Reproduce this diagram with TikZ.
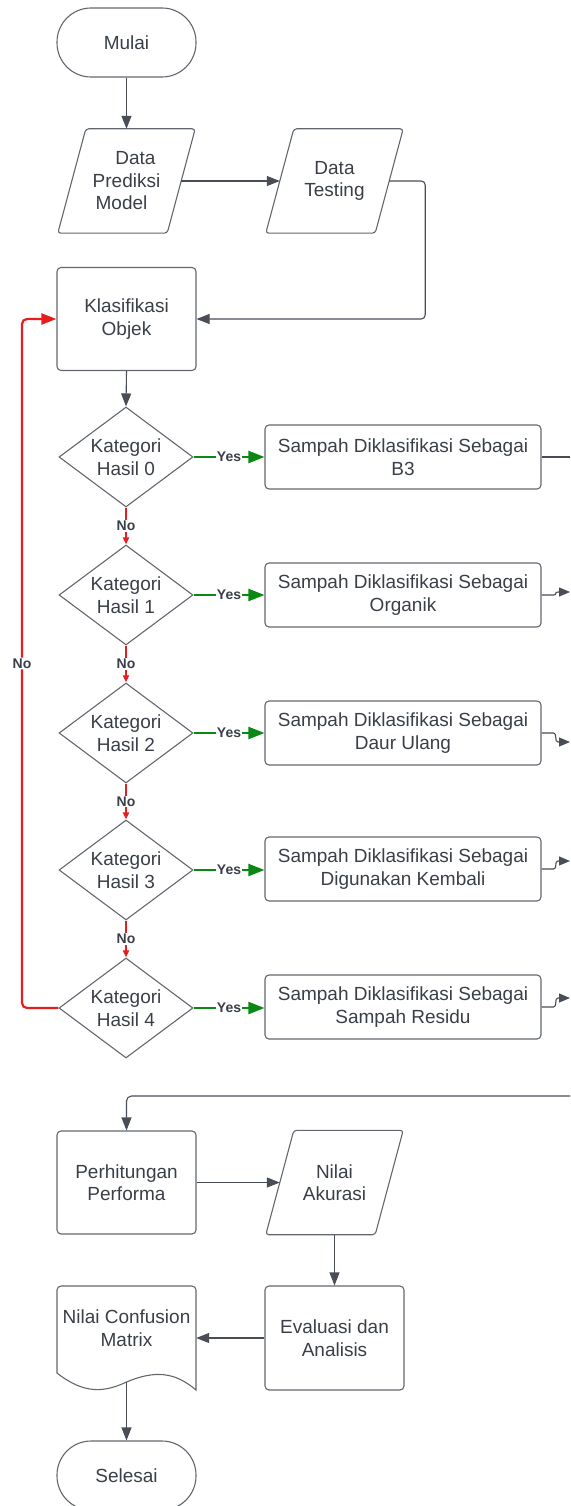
\documentclass[tikz,border=0pt]{standalone}
\usepackage{fontspec}
\setmainfont{Liberation Sans}
\usetikzlibrary{arrows.meta,shapes.geometric,calc}
\definecolor{ink}{RGB}{58,63,71}
\definecolor{outline}{RGB}{98,103,111}
\definecolor{wire}{RGB}{72,77,86}
\definecolor{nored}{RGB}{226,30,30}
\definecolor{yesgreen}{RGB}{10,136,20}
\begin{document}
\begin{tikzpicture}[x=1pt,y=-1pt,
  txt/.style={text=ink,font=\fontsize{19}{22.5}\selectfont,align=center,inner sep=0pt},
  shapeline/.style={draw=outline,line width=1.1pt},
  term/.style={txt,shapeline,rectangle,rounded corners=34pt,minimum width=139pt,minimum height=69pt},
  proc/.style={txt,shapeline,rectangle,rounded corners=4pt,minimum width=139pt,minimum height=103pt},
  wide/.style={txt,shapeline,rectangle,rounded corners=4pt,minimum width=276pt,minimum height=64pt},
  decision/.style={txt,shapeline,diamond,aspect=1.34,minimum width=134pt,minimum height=100pt},
  io/.style={txt,rectangle,minimum width=109pt,minimum height=104pt},
  flow/.style={draw=wire,line width=1.1pt,-{Triangle[length=13pt,width=10pt]}},
  edgeflow/.style={draw=wire,line width=1.1pt,-{Triangle[length=11pt,width=9pt]}},
  yesline/.style={draw=yesgreen,line width=2.2pt,-{Triangle[length=16pt,width=12pt]}},
  noline/.style={draw=nored,line width=2.2pt,-{Triangle[length=7pt,width=6pt]}},
  noloop/.style={draw=nored,line width=2.2pt,rounded corners=5pt,-{Triangle[length=15pt,width=11pt]}},
  lbl/.style={fill=white,text=ink,font=\bfseries\fontsize{14}{16}\selectfont,inner sep=1pt}
]
\useasboundingbox (0,0) rectangle (570,1506);

% ---- upper part: start, inputs, classification ----
\node[term] (mulai) at (126.5,42.5) {Mulai};
\node[io] (dpm) at (126.5,181) {\hspace*{18pt}Data\\Prediksi\\Model\hspace*{10pt}};
\node[io] (dt) at (334.5,181) {Data\\Testing};
\node[proc] (klas) at (126.5,319) {Klasifikasi\\Objek};

% parallelogram outlines of the input/output nodes
\foreach \n in {dpm,dt} {
  \draw[shapeline,rounded corners=3pt]
    ($(\n.north west)+(14,0)$) -- ($(\n.north east)+(14,0)$) --
    ($(\n.south east)+(-14,0)$) -- ($(\n.south west)+(-14,0)$) -- cycle;
}

% ---- decision chain ----
\node[decision] (d0) at (126,457) {Kategori\\Hasil 0};
\node[decision] (d1) at (126,595) {Kategori\\Hasil 1};
\node[decision] (d2) at (126,733) {Kategori\\Hasil 2};
\node[decision] (d3) at (126,870) {Kategori\\Hasil 3};
\node[decision] (d4) at (126,1008) {Kategori\\Hasil 4};

\node[wide] (b0) at (403,457) {Sampah Diklasifikasi Sebagai\\B3};
\node[wide] (b1) at (403,595) {Sampah Diklasifikasi Sebagai\\Organik};
\node[wide] (b2) at (403,733) {Sampah Diklasifikasi Sebagai\\Daur Ulang};
\node[wide] (b3) at (403,869) {Sampah Diklasifikasi Sebagai\\Digunakan Kembali};
\node[wide] (b4) at (403,1007) {Sampah Diklasifikasi Sebagai\\Sampah Residu};

% ---- lower part: evaluation ----
\node[proc] (perf) at (126.5,1182.5) {Perhitungan\\Performa};
\node[io] (na) at (334.5,1182.5) {Nilai\\Akurasi};
\draw[shapeline,rounded corners=3pt]
  ($(na.north west)+(14,0)$) -- ($(na.north east)+(14,0)$) --
  ($(na.south east)+(-14,0)$) -- ($(na.south west)+(-14,0)$) -- cycle;
\node[proc,minimum height=104pt] (eval) at (334.5,1338) {Evaluasi dan\\Analisis};
\node[txt,minimum width=139pt,minimum height=84pt] (cm) at (126.5,1328) {Nilai Confusion\\Matrix};
\draw[shapeline] (57,1373) [rounded corners=4pt] -- (57,1286) -- (196,1286) [sharp corners] -- (196,1390)
  .. controls (175,1372) and (155,1370) .. (126.5,1382)
  .. controls (105,1392) and (85,1395) .. (57,1373) -- cycle;
\coordinate (cmb) at (126.5,1382);
\node[term] (sel) at (126.5,1475.5) {Selesai};

% ---- connectors ----
\draw[flow] (mulai.south) -- (dpm.north);
\draw[flow] (dpm.east) -- (dt.west);
\draw[flow,rounded corners=4pt] (dt.east) -- ++(36,0) |- (klas.east);
\draw[flow] (klas.south) -- (d0.north);

\foreach \i in {0,...,4} {
  \draw[yesline] (d\i.east) -- node[lbl]{Yes} (d\i.east -| b\i.west);
}
\foreach \i/\j in {0/1,1/2,2/3,3/4} {
  \draw[noline] (d\i.south) -- node[lbl]{No} (d\j.north);
}

\coordinate (loopx) at (22,663);
\draw[noloop] (d4.west) -- (d4.west -| loopx) -- node[lbl]{No} (klas.west -| loopx) -- (klas.west);

% outgoing links at the right margin
\coordinate (r0) at (570,457);
\coordinate (r1) at (570,592);
\coordinate (r2) at (570,742);
\coordinate (r3) at (570,861);
\coordinate (r4) at (570,998);
\draw[draw=wire,line width=1.1pt] (b0.east) -- (r0);
\foreach \i in {1,...,4} {
  \draw[edgeflow] (b\i.east) -- ($(b\i.east)+(12,0)$)
    .. controls +(4,0) and +(-4,0) .. ($(r\i)+(-12,0)$) -- (r\i);
}
\coordinate (r5) at (570,1096);
\draw[flow,rounded corners=5pt] (r5) -| (perf.north);

\draw[flow] (perf.east) -- (perf.east -| na.west);
\draw[flow] (na.south) -- (eval.north);
\draw[flow] (eval.west) -- (eval.west -| cm.east);
\draw[flow] (cmb) -- (sel.north);
\end{tikzpicture}
\end{document}
